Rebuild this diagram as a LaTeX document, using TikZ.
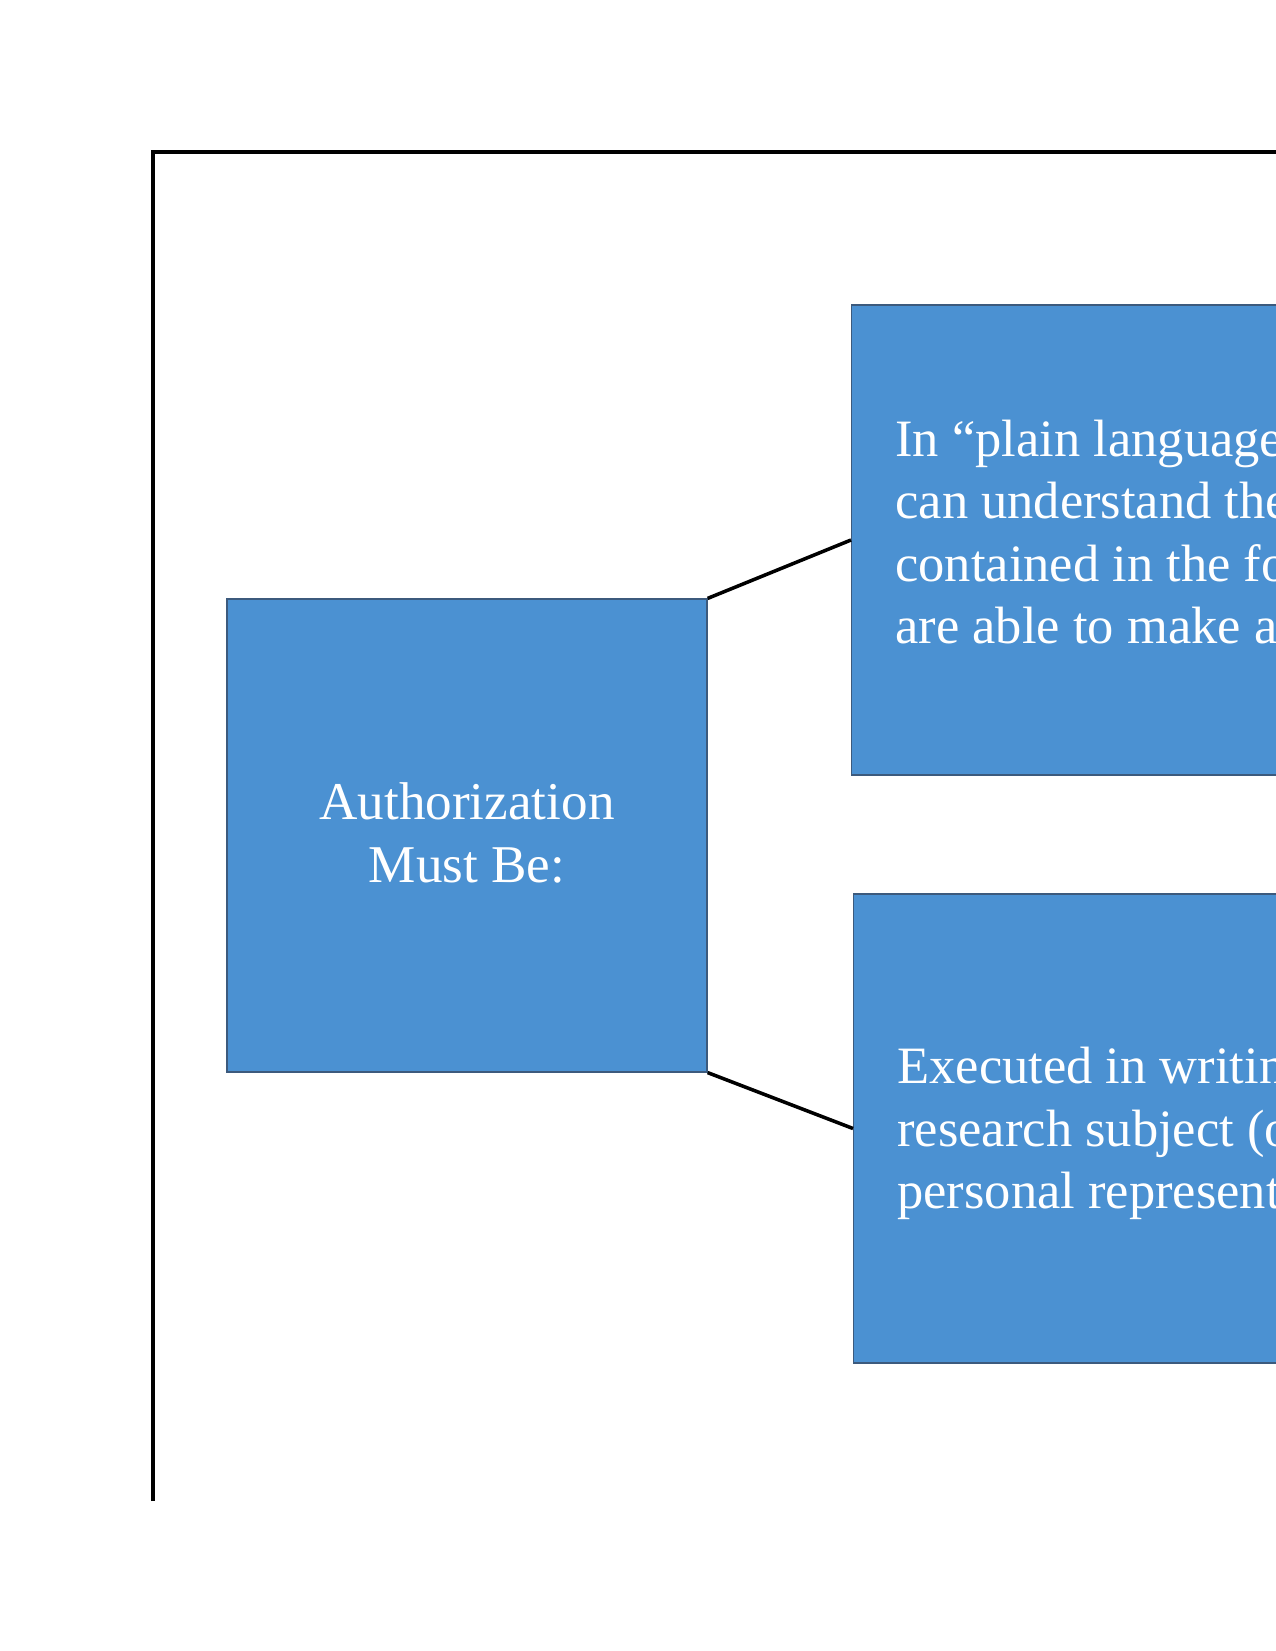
\documentclass[tikz,border=0pt]{standalone}
\usepackage{fontspec}
\setmainfont{Liberation Serif}
\usepackage{xcolor}
\usetikzlibrary{positioning}
\definecolor{boxblue}{RGB}{75,145,210}
\definecolor{boxedge}{RGB}{60,90,125}

\begin{document}
\begin{tikzpicture}[x=0.48pt,y=-0.48pt,
        blk/.style={rectangle,draw=boxedge,line width=0.6pt,fill=boxblue,text=white,font=\fontsize{25.5}{30}\selectfont,inner sep=0pt},
        side/.style={blk,minimum width=230.4pt,minimum height=227pt,align=center},
        item/.style={blk,anchor=west,minimum height=225.6pt,text width=260pt,inner xsep=21pt,align=flush left,font=\fontsize{25.2}{30}\selectfont},
        link/.style={line width=1.7pt}]
        \useasboundingbox (0,0) rectangle (1275,1651);
        \draw[line width=2pt] (153,1501) -- (153,152) -- (1290,152);
        \node[side] (auth) at (467,835.5) {Authorization\\Must Be:\rule[-3pt]{0pt}{0pt}};
        \node[item] (plain) at (851,540) {In “plain language”\\can understand the\\contained in the form\\are able to make a\rule[-8pt]{0pt}{0pt}};
        \node[item,minimum height=225.1pt] (signed) at (853,1128.5) {\rule{0pt}{22.4pt}Executed in writing\\research subject (or\\personal representative};
        \draw[link] (auth.north east) -- (plain.west);
        \draw[link] (auth.south east) -- (signed.west);
    \end{tikzpicture}
\end{document}
